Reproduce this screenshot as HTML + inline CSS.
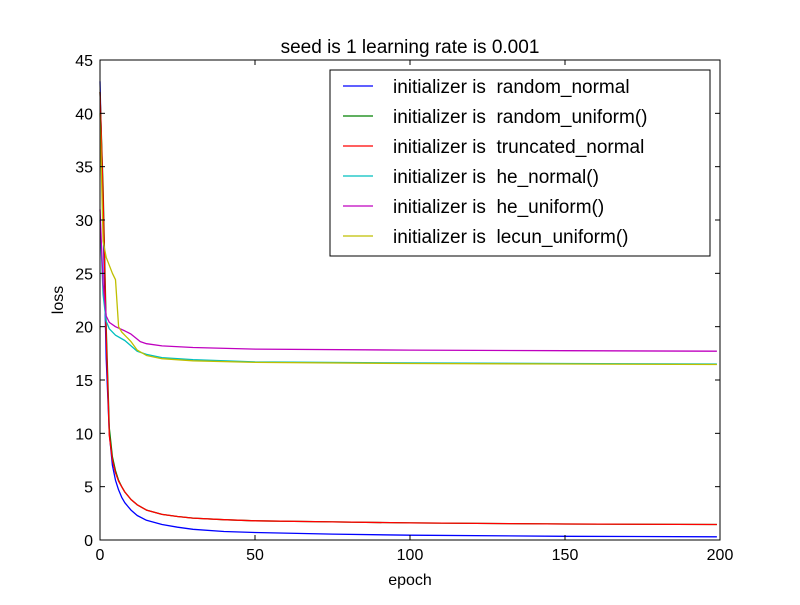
<!DOCTYPE html>
<html><head><meta charset="utf-8"><style>
body{margin:0;background:#fff;}
svg text{font-family:"Liberation Sans",sans-serif;white-space:pre;}
</style></head><body>
<svg id="chart" width="800" height="600" xmlns="http://www.w3.org/2000/svg">
<rect width="800" height="600" fill="#fff"/>
<g id="plot"></g>
</svg>
<script>
const xTicks=[0,50,100,150,200];
const yTicks=[0,5,10,15,20,25,30,35,40,45];
const seriesNames=["random_normal","random_uniform()","truncated_normal","he_normal()","he_uniform()","lecun_uniform()"];
const seriesColors=["#0000ff","#008000","#ff0000","#00bfbf","#bf00bf","#bfbf00"];
const epochsBlue=[0,1,2,3,4,5,6,7,8,10,12,15,20,25,30,40,50,75,100,150,199];
const lossBlue=[43,30,17,10,7,5.6,4.7,4.0,3.5,2.8,2.3,1.85,1.45,1.2,1.0,0.8,0.7,0.55,0.45,0.35,0.3];
const epochsGreen=[0,1,2,3,4,5,6,7,8,10,12,15,20,25,30,40,50,75,100,150,199];
const lossGreen=[42,33,20,10.5,7.8,6.5,5.6,5.0,4.5,3.8,3.3,2.8,2.4,2.2,2.05,1.9,1.8,1.7,1.6,1.5,1.45];
const epochsRed=[0,1,2,3,4,5,6,7,8,10,12,15,20,25,30,40,50,75,100,150,199];
const lossRed=[42,32,19,9.8,7.5,6.3,5.5,5.0,4.5,3.8,3.3,2.8,2.4,2.2,2.05,1.9,1.8,1.7,1.6,1.5,1.45];
const epochsCyan=[0,1,2,3,5,8,12,15,20,30,50,100,150,199];
const lossCyan=[30,23,20.5,19.8,19.2,18.7,17.7,17.4,17.1,16.9,16.7,16.6,16.55,16.5];
const epochsMagenta=[0,1,2,3,5,8,10,13,15,20,30,50,100,150,199];
const lossMagenta=[31,24,21,20.4,20,19.6,19.3,18.6,18.4,18.2,18.05,17.9,17.8,17.75,17.7];
const epochsYellow=[0,1,2,4,5,6,7,10,12,15,20,30,50,100,150,199];
const lossYellow=[40,28,26.5,25,24.4,20,19.5,18.6,17.8,17.3,17.0,16.8,16.65,16.55,16.5,16.45];
const allEpochs=[epochsBlue,epochsGreen,epochsRed,epochsCyan,epochsMagenta,epochsYellow];
const allLoss=[lossBlue,lossGreen,lossRed,lossCyan,lossMagenta,lossYellow];

const NS="http://www.w3.org/2000/svg";
const L=100,R=720,T=60,B=540;
const xs=v=>L+(v-0)/(200-0)*(R-L);
const ys=v=>B-(v-0)/(45-0)*(B-T);
const g=document.getElementById('plot');
function el(tag,attrs,parent){const e=document.createElementNS(NS,tag);for(const k in attrs)e.setAttribute(k,attrs[k]);(parent||g).appendChild(e);return e;}

const keys=["random-normal","random-uniform","truncated-normal","he-normal","he-uniform","lecun-uniform"];
allLoss.forEach((arr,i)=>{
  const pts=arr.map((v,j)=>xs(allEpochs[i][j]).toFixed(1)+","+ys(v).toFixed(1)).join(" ");
  const p=el('polyline',{points:pts,fill:"none",stroke:seriesColors[i],"stroke-width":1.3,"stroke-linejoin":"round"});
  
  
});

const fr=el('rect',{x:L,y:T,width:R-L,height:B-T,fill:"none",stroke:"#000","stroke-width":1});



xTicks.forEach(t=>{
  const x=xs(t);
  el('line',{x1:x,x2:x,y1:B,y2:B-5,stroke:"#000"});
  el('line',{x1:x,x2:x,y1:T,y2:T+5,stroke:"#000"});
  const tx=el('text',{x:x,y:B+20,"text-anchor":"middle","font-size":"16"});
  tx.textContent=t;
  
  
});
yTicks.forEach(t=>{
  const y=ys(t);
  el('line',{x1:L,x2:L+5,y1:y,y2:y,stroke:"#000"});
  el('line',{x1:R,x2:R-5,y1:y,y2:y,stroke:"#000"});
  const tx=el('text',{x:L-7,y:y+6,"text-anchor":"end","font-size":"16"});
  tx.textContent=t;
  
  
});

const title=el('text',{x:410,y:53,"text-anchor":"middle","font-size":"19"});
title.textContent="seed is 1 learning rate is 0.001";


const xl=el('text',{x:410,y:585,"text-anchor":"middle","font-size":"16"});
xl.textContent="epoch";


const yl=el('text',{x:0,y:0,"text-anchor":"middle","font-size":"16",transform:"translate(63,300) rotate(-90)"});
yl.textContent="loss";



const lg=el('g',{});


el('rect',{x:330,y:70,width:380,height:186,fill:"#fff",stroke:"#000"},lg);
seriesNames.forEach((n,i)=>{
  const y=86+i*30;
  const e=el('g',{},lg);
  
  
  el('line',{x1:343,x2:373,y1:y,y2:y,stroke:seriesColors[i],"stroke-width":1.3},e);
  const t=el('text',{x:393,y:y+7,"font-size":"19"},e);
  t.textContent="initializer is  "+n;
});
</script>
</body></html>
